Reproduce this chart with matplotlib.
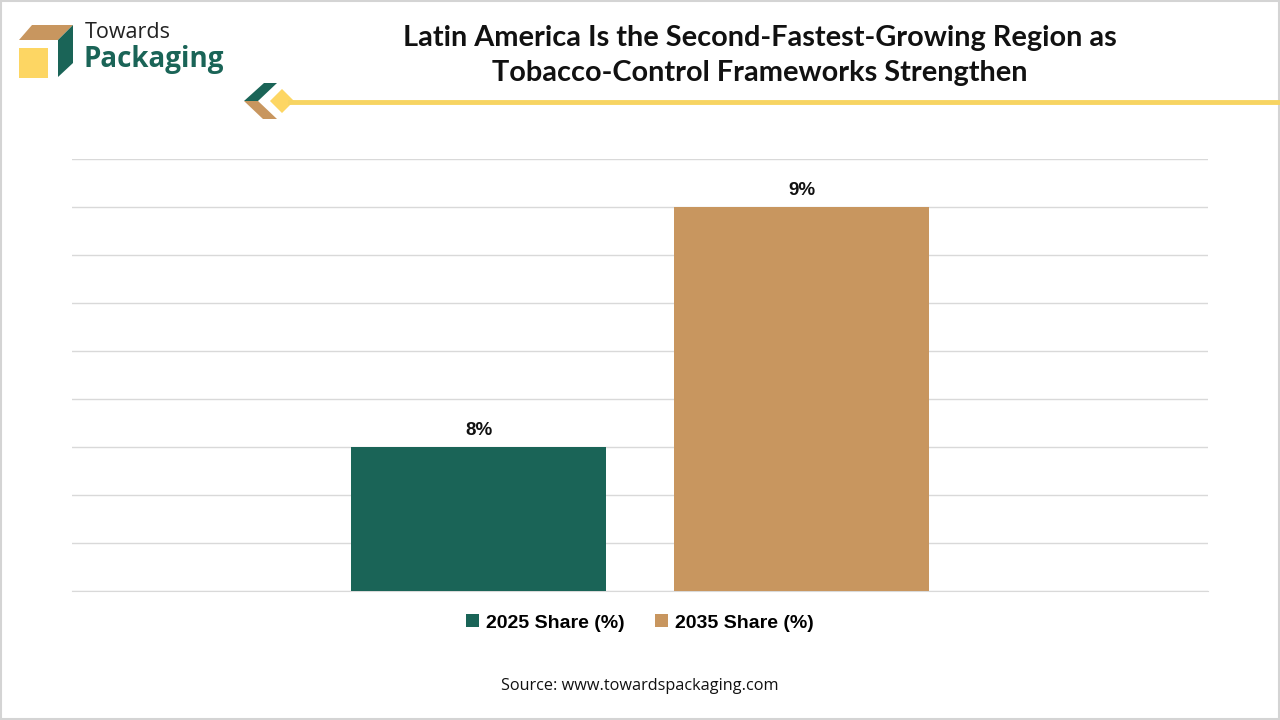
import numpy as np
import matplotlib.pyplot as plt
from matplotlib.patches import Polygon, Rectangle
from matplotlib.lines import Line2D

series = ["2025 Share (%)", "2035 Share (%)"]
values = [8.0, 9.0]
labels = ["8%", "9%"]
colors = ["#1A6457", "#C8965F"]

W, H = 1280, 720
fig = plt.figure(figsize=(12.8, 7.2), dpi=100)
fig.patch.set_facecolor("white")


def px(x, y):
    # pixel coords (top-left origin) -> figure fraction
    return (x / W, 1 - y / H)


# frame
fig.add_artist(Rectangle((0.001, 0.001), 0.998, 0.997, transform=fig.transFigure,
                         fill=False, edgecolor="#d4d4d4", linewidth=1.5))

# logo box
tan_top = [px(32, 25), px(73, 25), px(58, 40), px(19, 40)]
green_side = [px(58, 40), px(73, 25), px(73, 63), px(58, 77)]
fig.add_artist(Polygon(tan_top, closed=True, transform=fig.transFigure,
                       facecolor="#C8965F", edgecolor="none"))
fig.add_artist(Polygon(green_side, closed=True, transform=fig.transFigure,
                       facecolor="#1A6457", edgecolor="none"))
fig.add_artist(Rectangle(px(19, 78), 29 / W, 30 / H, transform=fig.transFigure,
                         facecolor="#FDD663", edgecolor="none"))
fig.text(*px(85, 32), "Towards", fontsize=15.5, color="#222222",
         family="Open Sans", va="center", ha="left")
fig.text(*px(84, 60), "Packaging", fontsize=20, color="#1A6457",
         family="Open Sans", fontweight="bold", va="center", ha="left")

# small chevron icon and yellow rule
fig.add_artist(Line2D([290 / W, 1278 / W], [1 - 102 / H] * 2, transform=fig.transFigure,
                      color="#F7D462", linewidth=3.5))
fig.add_artist(Polygon([px(244, 101), px(264, 83), px(277, 83), px(258, 101)],
                       closed=True, transform=fig.transFigure,
                       facecolor="#1A6457", edgecolor="none"))
fig.add_artist(Polygon([px(244, 101), px(258, 101), px(277, 119), px(263, 119)],
                       closed=True, transform=fig.transFigure,
                       facecolor="#C8965F", edgecolor="none"))
fig.add_artist(Polygon([px(282, 87), px(296, 101), px(282, 115), px(268, 101)],
                       closed=True, transform=fig.transFigure,
                       facecolor="#FDD663", edgecolor="white", linewidth=2))

# title
fig.text(760 / W, 1 - 46 / H, "Latin America Is the Second-Fastest-Growing Region as",
         ha="center", va="baseline", fontsize=20.8, fontweight="bold",
         family="Lato", color="#111111")
fig.text(760 / W, 1 - 81 / H, "Tobacco-Control Frameworks Strengthen",
         ha="center", va="baseline", fontsize=20.8, fontweight="bold",
         family="Lato", color="#111111")

# chart
ax = fig.add_axes([72 / W, 1 - 591 / H, 1136 / W, 432 / H])
x = np.array([0.0])
width = 255 / 1136
offset = 161.5 / 1136
for i, (name, val, lab, col) in enumerate(zip(series, values, labels, colors)):
    pos = x + (offset if i else -offset)
    ax.bar(pos, [val], width=width, color=col, label=name, zorder=3)
    ax.text(pos[0], val + 0.035, lab, ha="center", va="bottom", fontsize=13.5,
            fontweight="bold", family="Liberation Sans", color="#111111")

ax.set_xlim(-0.5, 0.5)
ax.set_ylim(7.4, 9.2)
ax.set_yticks(np.arange(7.4, 9.21, 0.2))
ax.grid(axis="y", color="#d9d9d9", linewidth=1, zorder=0)
ax.set_xticks([])
ax.tick_params(axis="y", length=0, labelleft=False)
for s in ["top", "right", "left"]:
    ax.spines[s].set_visible(False)
ax.spines["bottom"].set_color("#d9d9d9")

ax.legend(loc="center", bbox_to_anchor=(0.5, (591 - 623) / 432), ncol=2,
          frameon=False, handlelength=0.65, handleheight=0.65, handletextpad=0.35,
          columnspacing=1.6,
          prop={"family": "Liberation Sans", "weight": "bold", "size": 14})

fig.text(0.5, 1 - 686 / H, "Source: www.towardspackaging.com", ha="center",
         va="center", fontsize=11.7, family="Open Sans", color="#111111")

fig.savefig("out.png", dpi=100, facecolor="white")
